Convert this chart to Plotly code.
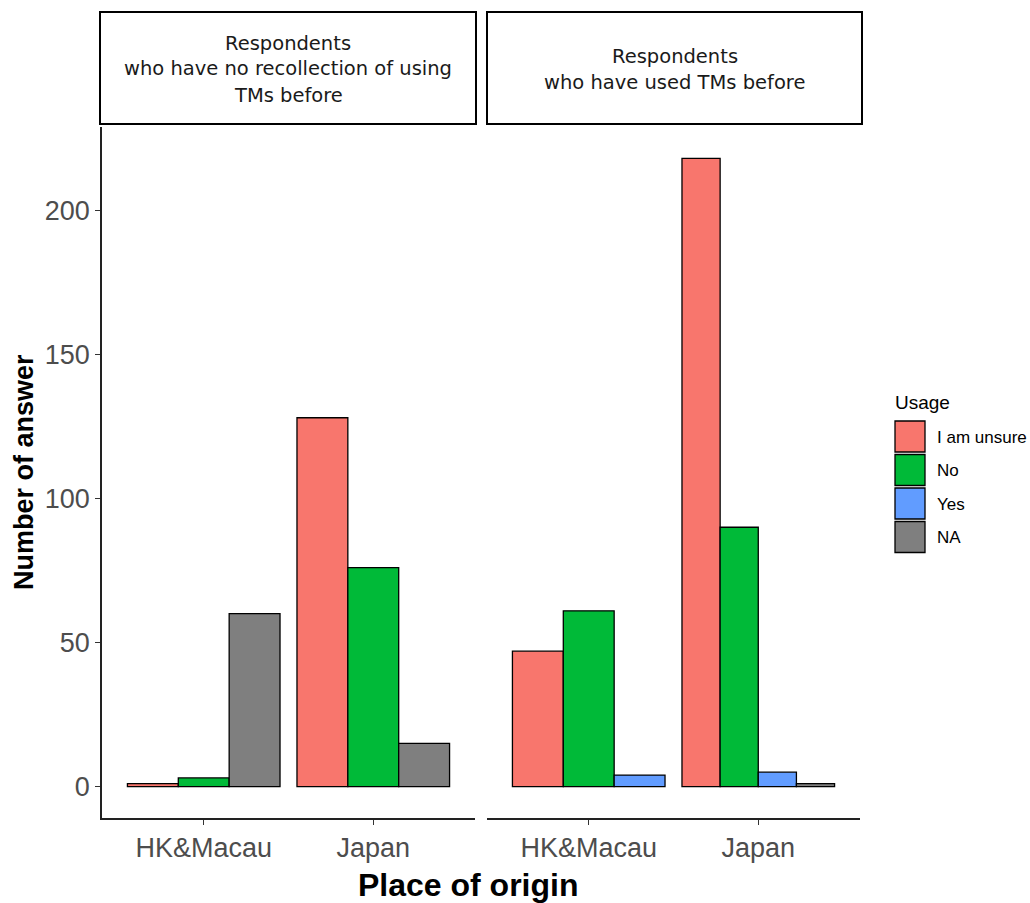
import plotly.graph_objects as go

# ---- data ---------------------------------------------------------------
categories = ["HK&Macau", "Japan"]
usage_levels = ["I am unsure", "No", "Yes", "NA"]
usage_colors = ["#F8766D", "#00BA38", "#619CFF", "#7F7F7F"]

panel_labels = [
    "Respondents\nwho have no recollection of using\nTMs before",
    "Respondents\nwho have used TMs before",
]

# counts per place of origin (None = no answers in that group)
norecall_unsure = [1, 128]
norecall_no = [3, 76]
norecall_yes = [None, None]
norecall_na = [60, 15]

used_unsure = [47, 218]
used_no = [61, 90]
used_yes = [4, 5]
used_na = [None, 1]

panels = [
    [norecall_unsure, norecall_no, norecall_yes, norecall_na],
    [used_unsure, used_no, used_yes, used_na],
]

# ---- geometry (pixels of the 1030x903 canvas) ---------------------------
W, H = 1030, 903
panel_px = [(102, 475), (487, 860)]
y_top_px, y_bot_px = 127, 818
strip_px = [(100, 476), (487, 862)]
strip_y = (12, 124)


def px_x(p):
    return p / W


def px_y(p):
    return 1 - p / H


fig = go.Figure()

DODGE = 0.9
for pi, series in enumerate(panels):
    xa = "x" if pi == 0 else "x2"
    ya = "y" if pi == 0 else "y2"
    # position dodge: bars present in each category share the 0.9 width
    pos = {}
    for ci, _ in enumerate(categories):
        present = [si for si, s in enumerate(series) if s[ci] is not None]
        w = DODGE / len(present)
        for k, si in enumerate(present):
            pos[(si, ci)] = (ci + 1 - DODGE / 2 + (k + 0.5) * w, w)
    for si, s in enumerate(series):
        xs, ws, ys = [], [], []
        for ci, v in enumerate(s):
            if v is None:
                continue
            xs.append(pos[(si, ci)][0])
            ws.append(pos[(si, ci)][1])
            ys.append(v)
        if not xs:
            continue
        fig.add_trace(go.Bar(
            x=xs, y=ys, width=ws, xaxis=xa, yaxis=ya,
            name=usage_levels[si], showlegend=False,
            marker=dict(color=usage_colors[si],
                        line=dict(color="#000000", width=1.3)),
        ))

tick_font = dict(family="Liberation Sans, Arial, sans-serif", size=27, color="#4D4D4D")
yr = [-10.9, 228.9]
xr = [0.4, 2.6]

common_x = dict(range=xr, tickmode="array", tickvals=[1, 2], ticktext=categories,
                showline=True, linecolor="#222222", linewidth=1.5,
                ticks="outside", ticklen=5, tickcolor="#333333", tickwidth=1.3,
                tickfont=tick_font, showgrid=False, zeroline=False,
                automargin=False, fixedrange=True)

fig.update_layout(
    width=W, height=H,
    margin=dict(l=0, r=0, t=0, b=0),
    paper_bgcolor="white", plot_bgcolor="white",
    barmode="overlay",
    showlegend=False,
    xaxis=dict(domain=[px_x(panel_px[0][0]), px_x(panel_px[0][1])], anchor="y", **common_x),
    xaxis2=dict(domain=[px_x(panel_px[1][0]), px_x(panel_px[1][1])], anchor="y2", **common_x),
    yaxis=dict(domain=[px_y(y_bot_px), px_y(y_top_px)], range=yr, anchor="x",
               tickvals=[0, 50, 100, 150, 200], showline=True, linecolor="#222222",
               linewidth=1.5, ticks="outside", ticklen=5, tickcolor="#333333",
               tickwidth=1.3, tickfont=tick_font, showgrid=False, zeroline=False,
               automargin=False, fixedrange=True),
    yaxis2=dict(domain=[px_y(y_bot_px), px_y(y_top_px)], range=yr, anchor="x2",
                matches="y", showticklabels=False, showline=False, ticks="",
                showgrid=False, zeroline=False, automargin=False, fixedrange=True),
)

shapes = []
annotations = []

# facet strips
for (x0, x1), label in zip(strip_px, panel_labels):
    shapes.append(dict(type="rect", xref="paper", yref="paper",
                       x0=px_x(x0), x1=px_x(x1), y0=px_y(strip_y[1]), y1=px_y(strip_y[0]),
                       line=dict(color="#000000", width=2), fillcolor="white", layer="below"))
    lines = label.split("\n")
    cy = (strip_y[0] + strip_y[1]) / 2 + 1
    step = 26
    for li, line in enumerate(lines):
        yy = cy + (li - (len(lines) - 1) / 2) * step
        annotations.append(dict(text=line, xref="paper", yref="paper",
                                x=px_x((x0 + x1) / 2), y=px_y(yy),
                                xanchor="center", yanchor="middle", showarrow=False,
                                font=dict(family="DejaVu Sans", size=19.5, color="#1A1A1A")))

# axis titles
annotations.append(dict(text="<b>Place of origin</b>", xref="paper", yref="paper",
                        x=px_x(468), y=px_y(885), xanchor="center", yanchor="middle",
                        showarrow=False,
                        font=dict(family="Liberation Sans, Arial, sans-serif", size=32, color="#000000")))
annotations.append(dict(text="<b>Number of answer</b>", xref="paper", yref="paper",
                        x=px_x(24), y=px_y(472), xanchor="center", yanchor="middle",
                        textangle=-90, showarrow=False,
                        font=dict(family="Liberation Sans, Arial, sans-serif", size=27, color="#000000")))

# legend
annotations.append(dict(text="Usage", xref="paper", yref="paper",
                        x=px_x(893), y=px_y(402), xanchor="left", yanchor="middle",
                        showarrow=False,
                        font=dict(family="Liberation Sans, Arial, sans-serif", size=19, color="#000000")))
key_top = 421
key_step = 33.5
for i, (lvl, col) in enumerate(zip(usage_levels, usage_colors)):
    t = key_top + i * key_step
    shapes.append(dict(type="rect", xref="paper", yref="paper",
                       x0=px_x(895), x1=px_x(925), y0=px_y(t + 31), y1=px_y(t),
                       line=dict(color="#000000", width=1.3), fillcolor=col))
    annotations.append(dict(text=lvl, xref="paper", yref="paper",
                            x=px_x(935), y=px_y(t + 16), xanchor="left", yanchor="middle",
                            showarrow=False,
                            font=dict(family="Liberation Sans, Arial, sans-serif", size=17, color="#000000")))

fig.update_layout(shapes=shapes, annotations=annotations)

fig.write_html("out.html")
